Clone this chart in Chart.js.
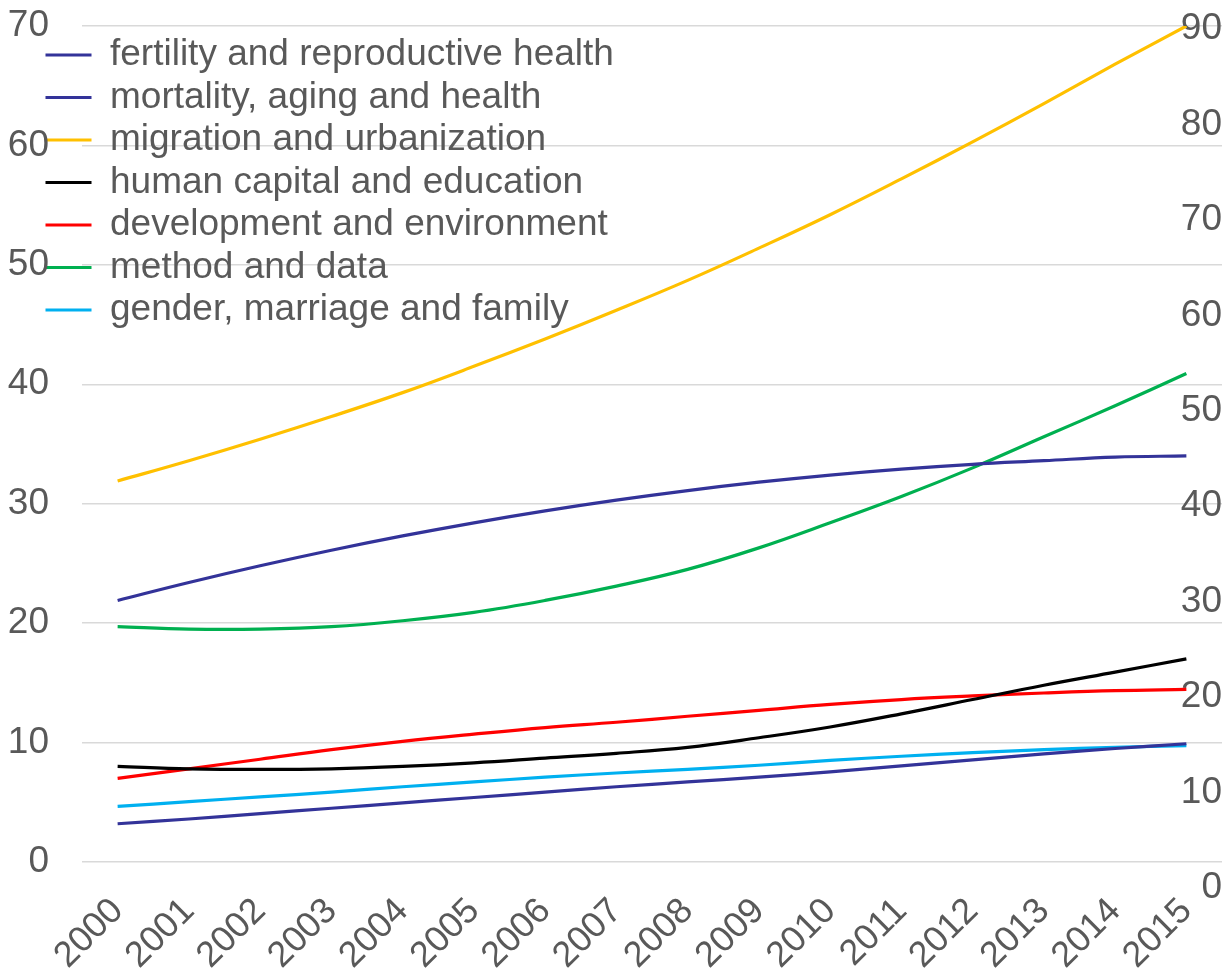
<!DOCTYPE html>
<html>
<head>
<meta charset="utf-8">
<script src="https://cdn.jsdelivr.net/npm/chart.js@4.4.0/dist/chart.umd.min.js"></script>
<style>
  html, body { margin: 0; background: #fff; }
  #wrap { width: 1228px; height: 969px; position: relative; }
</style>
</head>
<body>
<div id="wrap"><canvas id="trendChart"></canvas></div>
<script>
'use strict';

// categories and tick labels
const years = ['2000', '2001', '2002', '2003', '2004', '2005', '2006', '2007',
  '2008', '2009', '2010', '2011', '2012', '2013', '2014', '2015'];
const leftTicks = [0, 10, 20, 30, 40, 50, 60, 70];
const rightTicks = [0, 10, 20, 30, 40, 50, 60, 70, 80, 90];

// series
const fertility = [3.2, 3.6, 4.05, 4.5, 4.95, 5.4, 5.85, 6.3, 6.7, 7.1, 7.55, 8.05, 8.55, 9.05, 9.5, 9.9];
const mortality = [21.9, 23.4, 24.8, 26.1, 27.3, 28.4, 29.4, 30.3, 31.1, 31.8, 32.4, 32.9, 33.3, 33.6, 33.9, 34.0];
const migration = [31.9, 33.6, 35.4, 37.3, 39.3, 41.5, 43.8, 46.2, 48.7, 51.4, 54.2, 57.2, 60.3, 63.5, 66.8, 70.0];
const humanCapital = [8.0, 7.8, 7.75, 7.8, 8.0, 8.3, 8.7, 9.1, 9.6, 10.4, 11.3, 12.4, 13.6, 14.8, 15.9, 17.0];
const development = [7.0, 7.8, 8.6, 9.4, 10.1, 10.7, 11.25, 11.7, 12.2, 12.7, 13.2, 13.6, 13.9, 14.15, 14.35, 14.45];
const methodData = [19.7, 19.5, 19.5, 19.7, 20.2, 20.9, 21.9, 23.1, 24.5, 26.3, 28.4, 30.6, 33.0, 35.6, 38.2, 40.9];
const gender = [4.65, 5.05, 5.45, 5.85, 6.3, 6.7, 7.1, 7.45, 7.75, 8.1, 8.5, 8.85, 9.15, 9.4, 9.6, 9.75];

const TEXT = '#595959';
Chart.defaults.font.family = "'Liberation Sans', Arial, sans-serif";
Chart.defaults.color = TEXT;

function line(label, data, color) {
  return {
    label, data,
    borderColor: color, backgroundColor: color,
    borderWidth: 3.2, pointRadius: 0, tension: 0.4, fill: false
  };
}

// legend sits over the plot, a little left of the chart area
const legendNudge = {
  id: 'legendNudge',
  afterLayout(chart) {
    const lg = chart.legend;
    if (!lg) return;
    const w = lg.width, h = lg.height;
    lg.left = 40; lg.top = 31;
    lg.right = lg.left + w + 40; lg.bottom = lg.top + h;
  }
};

new Chart(document.getElementById('trendChart'), {
  type: 'line',
  data: {
    labels: years,
    datasets: [
      line('fertility and reproductive health', fertility, '#333399'),
      line('mortality, aging and health', mortality, '#333399'),
      line('migration and urbanization', migration, '#ffc000'),
      line('human capital and education', humanCapital, '#000000'),
      line('development and environment', development, '#ff0000'),
      line('method and data', methodData, '#00b050'),
      line('gender, marriage and family', gender, '#00b0f0')
    ]
  },
  options: {
    responsive: true, maintainAspectRatio: false, animation: false,
    layout: { padding: { top: 26, left: 0, right: 0, bottom: 0 } },
    plugins: {
      tooltip: { enabled: false },
      legend: {
        position: 'chartArea', align: 'start',
        labels: {
          color: TEXT, font: { size: 37 },
          boxWidth: 46, boxHeight: 0, padding: 5.5
        }
      }
    },
    scales: {
      x: {
        offset: true,
        grid: { display: false },
        border: { display: false },
        ticks: { font: { size: 36 }, color: TEXT, minRotation: 45, maxRotation: 45, autoSkip: false, padding: -6 },
        afterFit(s) { s.height = 81; }
      },
      y: {
        position: 'left', min: -2.18, max: 70, bounds: 'data',
        grid: { color: '#d9d9d9', lineWidth: 1.5, drawTicks: true, tickLength: 31, tickColor: 'rgba(0,0,0,0)' },
        border: { display: false },
        ticks: { font: { size: 37 }, color: TEXT, padding: 2 },
        afterBuildTicks(s) { s.ticks = leftTicks.map(v => ({ value: v })); },
        afterFit(s) { s.width = 82; }
      },
      y1: {
        position: 'right', min: 0, max: 90.31, bounds: 'data',
        grid: { display: false, drawTicks: false },
        border: { display: false },
        ticks: { font: { size: 37 }, color: TEXT, mirror: true, padding: 0 },
        afterBuildTicks(s) { s.ticks = rightTicks.map(v => ({ value: v })); },
        afterFit(s) { s.width = 6; }
      }
    }
  },
  plugins: [legendNudge]
});
</script>
</body>
</html>
